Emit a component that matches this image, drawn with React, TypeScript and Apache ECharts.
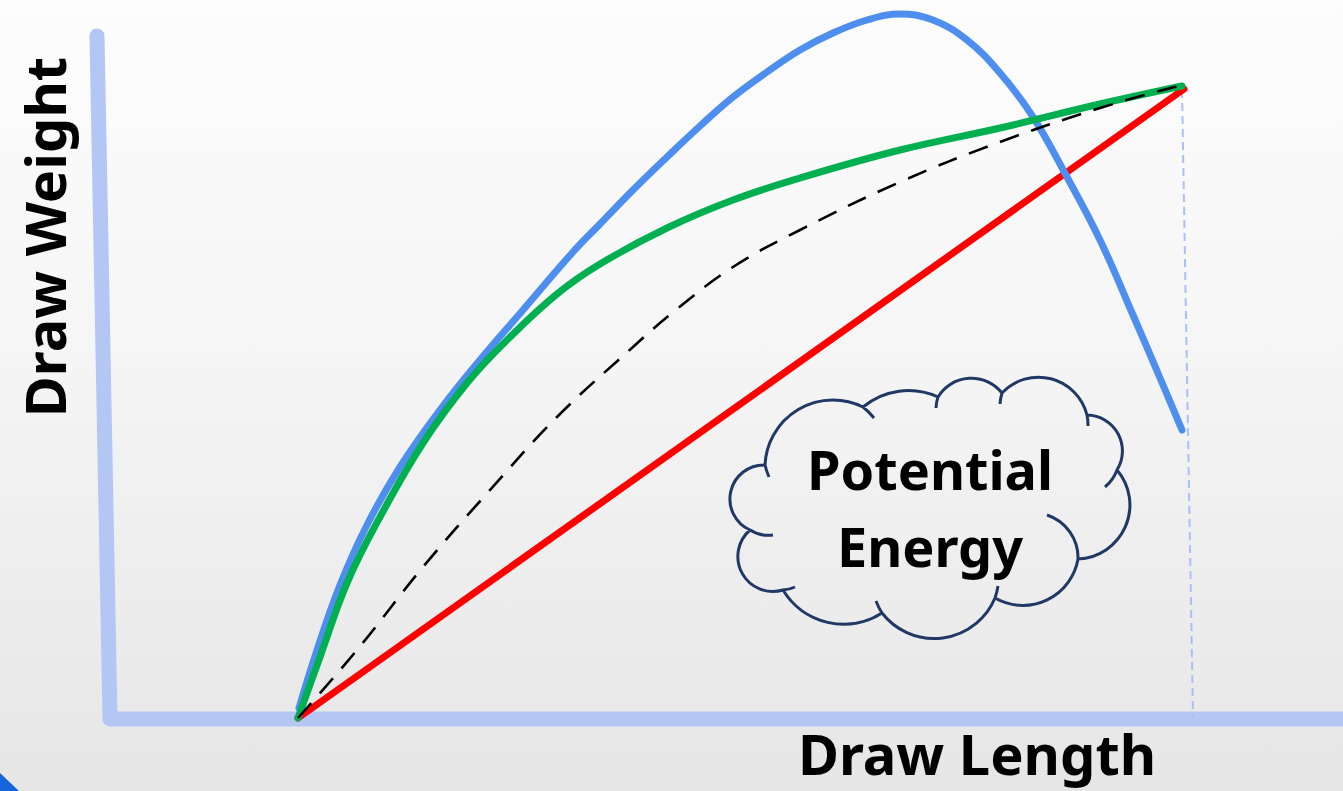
import React, { useEffect, useRef } from "react";
import * as echarts from "echarts";

// Units: draw length (x) and draw weight (y), origin at brace height.
const blueCurve: [number, number][] = [
  [0.1, 1.1], [1.9, 6.9], [4.2, 13.4], [6.9, 19.4], [10.2, 25.2], [14.2, 30.9],
  [18.2, 35.9], [22.5, 40.9], [27.5, 46.7], [30.2, 49.5], [33.5, 52.9], [36.9, 56.2],
  [40.2, 59.3], [43.5, 62.2], [46.9, 64.7], [50.2, 66.9], [53.5, 68.6], [56.9, 69.9],
  [60.2, 70.5], [63.5, 69.9], [66.9, 67.9], [70.2, 64.6], [73.5, 60.2], [76.9, 54.2],
  [80.2, 47.9], [83.5, 40.4], [86.5, 33.4], [88.4, 28.9],
];

const greenCurve: [number, number][] = [
  [0, 0.1], [2.2, 6.2], [4.9, 13.6], [8.2, 20.2], [12.5, 27.6], [16.9, 33.6],
  [20.9, 37.9], [25.9, 42.5], [30.2, 45.5], [36.9, 49.1], [43.5, 51.9], [50.2, 54.1],
  [60.2, 56.9], [70.2, 59.1], [80.2, 61.5], [88.4, 63.3],
];

const dashedCurve: [number, number][] = [
  [0, 0.1], [5.9, 6.9], [12.5, 15.2], [19.2, 22.9], [25.9, 30.2], [33.5, 37.2],
  [37.4, 40.6], [43.5, 45.2], [50.2, 48.9], [60.2, 53.7], [70.2, 57.7], [80.2, 61.1],
  [88.4, 63.4],
];

const redLine: [number, number][] = [[0, 0.1], [88.6, 63.0]];

const fullDrawMarker: [number, number][] = [[88.4, 62.9], [89.5, 0.2]];

const axisFrame: [number, number][] = [[-20.1, 68.3], [-18.8, 0], [107, 0]];

const xRange = [-29.8, 104.5];
const yRange = [-7.2, 71.9];

const xLabel = "Draw Length";
const yLabel = "Draw Weight";
const cloudLines = ["Potential", "Energy"];

const cloudPath =
  "M 765 465 A 68 68 0 0 1 863 407 A 71 71 0 0 1 938 397 A 39 39 0 0 1 1002 393 " +
  "A 50 50 0 0 1 1087 415 A 36 36 0 0 1 1117 470 A 54 54 0 0 1 1078 559 " +
  "A 56 56 0 0 1 995 598 A 66 66 0 0 1 882 613 A 71 71 0 0 1 783 590 " +
  "A 35 35 0 0 1 750 530 A 34 34 0 0 1 765 465 " +
  "M 765 465 A 68 68 0 0 0 769 477 " +
  "M 750 530 A 34 34 0 0 0 773 535 " +
  "M 783 590 A 35 35 0 0 0 795 587 " +
  "M 882 613 A 66 66 0 0 1 876 601 " +
  "M 995 598 A 66 66 0 0 0 998 586 " +
  "M 1078 559 A 45 45 0 0 0 1047 515 " +
  "M 1117 470 A 40 40 0 0 1 1105 487 " +
  "M 1087 415 A 50 50 0 0 1 1088 426 " +
  "M 1002 393 A 50 50 0 0 0 1000 404 " +
  "M 938 397 A 39 39 0 0 0 936 408 " +
  "M 863 407 A 68 68 0 0 1 874 418";

let registered = false;

export default function App() {
  const ref = useRef<HTMLDivElement>(null);

  useEffect(() => {
    if (!ref.current) return;
    if (!registered) {
      echarts.graphic.registerShape("cloud", echarts.graphic.extendPath(cloudPath, {}));
      registered = true;
    }
    const chart = echarts.init(ref.current, undefined, { renderer: "svg" });
    const font = "'Noto Sans', sans-serif";
    const lineBase = {
      type: "line" as const,
      showSymbol: false,
      symbol: "none",
      clip: false,
      silent: true,
    };
    chart.setOption({
      animation: false,
      grid: { left: 0, right: 0, top: 0, bottom: 0 },
      xAxis: { type: "value", min: xRange[0], max: xRange[1], show: false },
      yAxis: { type: "value", min: yRange[0], max: yRange[1], show: false },
      series: [
        {
          ...lineBase,
          name: "axes",
          data: axisFrame,
          lineStyle: { color: "#b3c6f4", width: 15, cap: "round", join: "round" },
          z: 1,
        },
        {
          ...lineBase,
          name: "full draw",
          data: fullDrawMarker,
          lineStyle: { color: "#a9c0f3", width: 2, type: [8, 5] },
          z: 2,
        },
        {
          ...lineBase,
          name: "linear",
          data: redLine,
          lineStyle: { color: "#ff0000", width: 7, cap: "round" },
          z: 3,
        },
        {
          ...lineBase,
          name: "blue",
          data: blueCurve,
          smooth: 0.4,
          lineStyle: { color: "#4d8eef", width: 7, cap: "round", join: "round" },
          z: 4,
        },
        {
          ...lineBase,
          name: "green",
          data: greenCurve,
          smooth: 0.4,
          lineStyle: { color: "#00b050", width: 7, cap: "round", join: "round" },
          z: 5,
        },
        {
          ...lineBase,
          name: "dashed",
          data: dashedCurve,
          smooth: 0.4,
          lineStyle: { color: "#000000", width: 2.6, type: [20, 13] },
          z: 6,
        },
      ],
      graphic: [
        {
          type: "cloud",
          x: 0,
          y: 0,
          style: { fill: "none", stroke: "#1f3864", lineWidth: 3 },
          z: 10,
        },
        {
          type: "text",
          x: 930,
          y: 469,
          style: { text: cloudLines[0], font: `bold 54px ${font}`, fill: "#000", textAlign: "center", textVerticalAlign: "middle" },
          z: 11,
        },
        {
          type: "text",
          x: 930,
          y: 546,
          style: { text: cloudLines[1], font: `bold 54px ${font}`, fill: "#000", textAlign: "center", textVerticalAlign: "middle" },
          z: 11,
        },
        {
          type: "text",
          x: 977,
          y: 753,
          style: { text: xLabel, font: `bold 56px ${font}`, fill: "#000", textAlign: "center", textVerticalAlign: "middle" },
          z: 11,
        },
        {
          type: "text",
          x: 44,
          y: 237,
          rotation: Math.PI / 2,
          style: { text: yLabel, font: `bold 56px ${font}`, fill: "#000", textAlign: "center", textVerticalAlign: "middle" },
          z: 11,
        },
        {
          type: "polygon",
          shape: { points: [[0, 773], [19, 791], [0, 791]] },
          style: { fill: "#1565d8" },
          z: 11,
        },
      ],
    });
    return () => chart.dispose();
  }, []);

  return (
    <div
      ref={ref}
      style={{
        position: "fixed",
        left: 0,
        top: 0,
        width: 1343,
        height: 791,
        background: "linear-gradient(180deg, #fdfdfd 0%, #f5f5f5 45%, #e6e6e6 100%)",
      }}
    />
  );
}
